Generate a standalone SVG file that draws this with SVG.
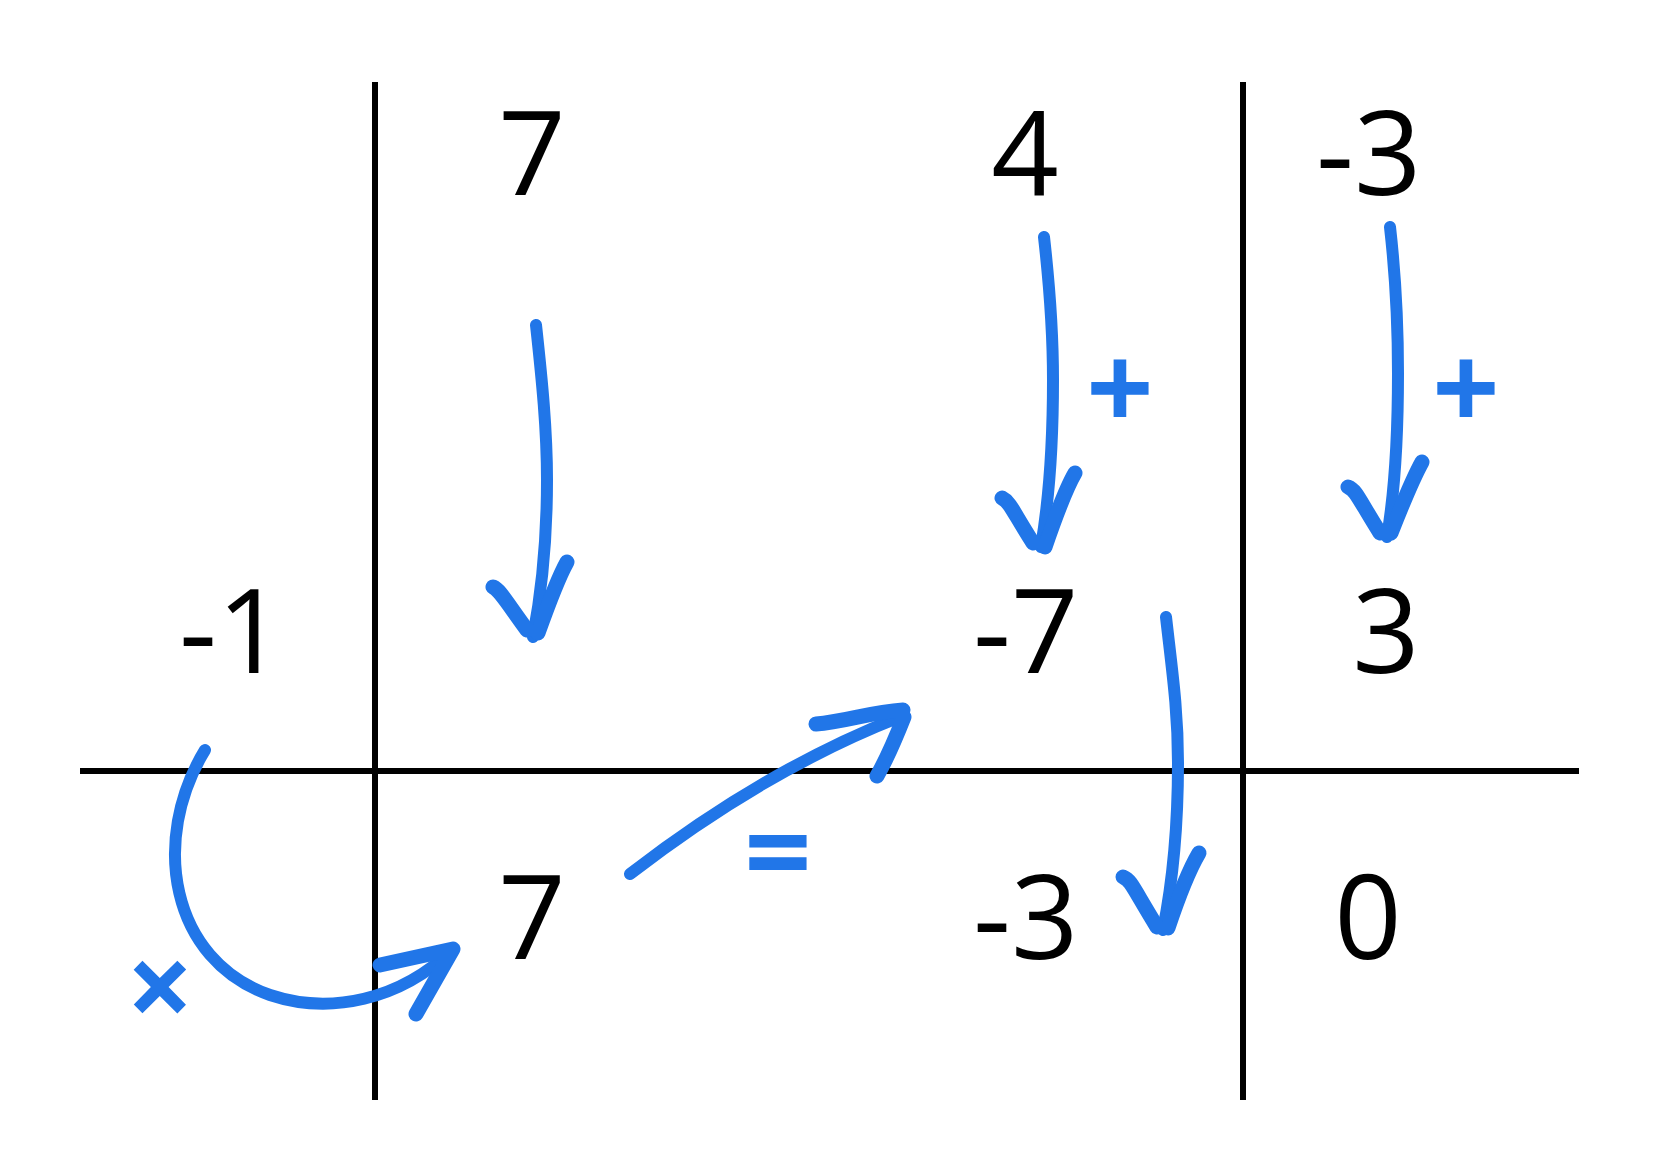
<svg xmlns="http://www.w3.org/2000/svg" width="1661" height="1168" viewBox="0 0 1661 1168">
<style>
.grid{stroke:#000;stroke-width:6;fill:none}
.num{font-family:"Open Sans","Noto Sans",sans-serif;font-size:118px;fill:#000}
.op{font-family:"Open Sans","Noto Sans",sans-serif;font-size:118px;font-weight:bold;fill:#2176e8;text-anchor:middle}
.arr{stroke:#2176e8;stroke-width:12;fill:none;stroke-linecap:round;stroke-linejoin:round}
.head{stroke:#2176e8;stroke-width:15;fill:none;stroke-linecap:round;stroke-linejoin:round}
</style>
<rect width="1661" height="1168" fill="#fff"/>
<g id="grid">
<line class="grid" x1="375" y1="82" x2="375" y2="1100"/>
<line class="grid" x1="1243" y1="82" x2="1243" y2="1100"/>
<line class="grid" x1="80" y1="771" x2="1579" y2="771"/>
</g>
<g id="row1">
<text id="n7a" class="num" x="532" y="195" text-anchor="middle">7</text>
<text id="n4" class="num" x="1025" y="195" text-anchor="middle">4</text>
<text id="nm3a" class="num" x="1316" y="195">-3</text>
</g>
<g id="row2">
<text id="nm1" class="num" x="179" y="673">-1</text>
<text id="nm7" class="num" x="973" y="673">-7</text>
<text id="n3" class="num" x="1386" y="673" text-anchor="middle">3</text>
</g>
<g id="row3">
<text id="n7b" class="num" x="532" y="959" text-anchor="middle">7</text>
<text id="nm3b" class="num" x="973" y="959">-3</text>
<text id="n0" class="num" x="1368" y="959" text-anchor="middle">0</text>
</g>
<g id="operators">
<text class="op" x="1120" y="430">+</text>
<text class="op" x="1466" y="430">+</text>
<text class="op" x="778" y="894">=</text>
<text class="op" x="160" y="1029">×</text>
</g>
<g id="connectors">
<g id="a1"><path class="arr" d="M536,325 C542,380 547,430 547,480 C547,540 542,590 533,637"/><path class="head" d="M493,587 C500,590 505,600 527,630 M567,562 C558,578 548,605 538,633"/></g>
<g id="a2"><path class="arr" d="M1044,237 C1050,290 1053,330 1053,380 C1053,450 1049,500 1041,547"/><path class="head" d="M1002,498 C1010,502 1012,510 1033,543 M1075,473 C1065,490 1056,515 1045,547"/></g>
<g id="a3"><path class="arr" d="M1390,227 C1396,280 1398,320 1398,373 C1398,440 1395,490 1387,537"/><path class="head" d="M1348,487 C1356,490 1358,498 1380,533 M1422,462 C1412,480 1402,505 1391,533"/></g>
<g id="a4"><path class="arr" d="M1166,617 C1172,670 1178,710 1178,763 C1178,830 1173,880 1163,930"/><path class="head" d="M1123,877 C1131,880 1133,888 1157,927 M1199,853 C1189,870 1179,895 1168,928"/></g>
<g id="a5"><path class="arr" d="M630,874 C700,820 790,760 900,717"/><path class="head" d="M816,724 C845,722 870,712 903,710 M877,776 C885,762 893,745 904,717"/></g>
<g id="a6"><path class="arr" d="M205,750 C150,840 170,960 270,995 C330,1015 400,1000 452,950"/><path class="head" d="M380,965 L453,949 L416,1014"/></g>
</g>
</svg>
